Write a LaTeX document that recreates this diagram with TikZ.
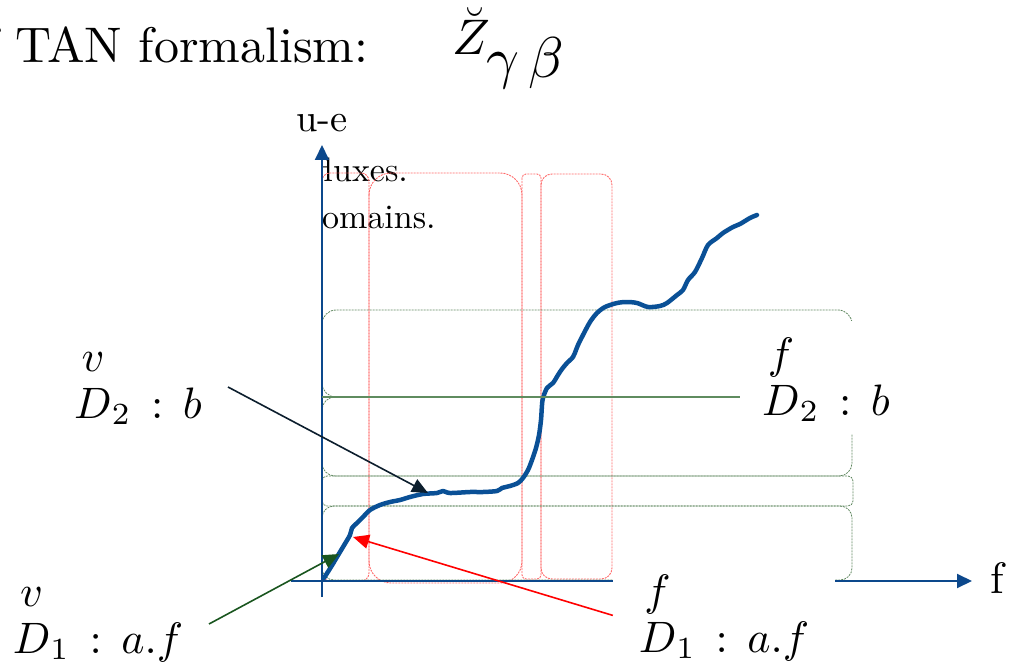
\documentclass[tikz,border=0pt]{standalone}
\usepackage{amsmath}
\usepackage{graphicx}
\usetikzlibrary{arrows.meta}
\definecolor{axisblue}{RGB}{12,72,140}
\definecolor{curveblue}{RGB}{10,80,150}
\definecolor{boxred}{RGB}{255,105,105}
\definecolor{boxgreen}{RGB}{95,135,95}
\definecolor{arrnavy}{RGB}{12,30,45}
\definecolor{arrgreen}{RGB}{25,85,30}
\definecolor{linegreen}{RGB}{95,140,95}
\newcommand\mystk[2]{{\overset{\raisebox{0.18em}{$#1$}}{#2}}}
\newcommand\bigmath[2]{\scalebox{#1}{\fontsize{10}{12}\selectfont$#2$}}
\newcommand\bigtext[2]{\scalebox{#1}{\fontsize{10}{12}\selectfont #2}}
\tikzset{
  rbox/.style={draw=boxred, line width=0.9pt, dash pattern=on 2pt off 1pt},
  gbox/.style={draw=boxgreen, line width=0.8pt, dash pattern=on 2pt off 1pt},
  axisline/.style={draw=axisblue, line width=2pt, -{Triangle[length=15pt,width=14pt]}},
  lab/.style={fill=white, inner xsep=2pt, inner ysep=8pt, anchor=base},
  txt/.style={inner sep=0pt},
  arr/.style={line width=1.6pt, -{Triangle[length=16pt,width=14pt]}},
}
\begin{document}
\begin{tikzpicture}[x=1pt,y=-1pt]
\useasboundingbox (0,0) rectangle (1023,663);
% slide text
\node[txt, anchor=base west] (title) at (15,63) {\bigtext{5}{\llap{of }TAN formalism:}};
\node[txt, anchor=base west] (zg) at (452,55) {\bigmath{5}{\breve{Z}_{\mbox{\scalebox{1.15}{$\gamma\,\beta$}}}}};
\begin{scope}
\clip (321,130) rectangle (700,250);
\node[txt, anchor=base west] (t1) at (314,182) {\bigtext{3.4}{fluxes.}};
\node[txt, anchor=base west] (t2) at (303,229) {\bigtext{3.4}{domains.}};
\end{scope}
% red domains
\draw[rbox, rounded corners=8pt] (322,173) rectangle (369,581);
\draw[rbox, rounded corners=22pt] (369,173) rectangle (522,583);
\draw[rbox, rounded corners=4pt] (522,174) rectangle (541,579);
\draw[rbox, rounded corners=11pt] (541,174) rectangle (612,579);
% green domains
\draw[gbox, rounded corners=14pt] (322,310) rectangle (852,397);
\draw[gbox, rounded corners=13pt] (322,397) rectangle (852,476);
\draw[gbox, rounded corners=5pt] (322,476) rectangle (853,506);
\draw[gbox, rounded corners=12pt] (322,506) rectangle (852,580);
% axes
\coordinate (yo) at (322,597);
\coordinate (yt) at (322,145);
\coordinate (xo) at (291,581);
\coordinate (xt) at (972,581);
\draw[axisline] (yo) -- (yt);
\draw[axisline] (xo) -- (xt);
\node[txt, anchor=base] (ylab) at (322,132) {\bigtext{3.85}{u-e}};
\node[txt, anchor=base west] (xlab) at (990,593) {\bigtext{4.4}{f}};
% curve
\draw[curveblue, line width=4.5pt, line cap=round, line join=round] plot[smooth, tension=0.5] coordinates {
(324,578) (331,567) (337,557) (343,547) (350,535) (352,528) (357,523) (363,517) (370,510) (380,505) (390,502) (400,500) (410,497) (423,494) (437,493) (443,491) (450,493) (470,492) (483,492) (497,491) (502,488) (510,486) (518,483) (523,478) (528,470) (532,460) (536,448) (539,435) (541,420) (542,405) (543,398) (547,388) (553,383) (558,375) (562,369) (567,363) (573,357) (576,350) (578,345) (583,335) (590,322) (597,313) (605,307) (617,303) (627,302) (637,303) (648,307) (660,306) (667,303) (677,295) (683,290) (688,280) (695,272) (702,258) (708,245) (717,238) (723,233) (733,227) (740,224) (750,218) (757,215)};
% labels
\node[lab] (lv2) at (138,418) {\bigmath{4.4}{\mystk{v}{D}_{2}\mathrel{\,:\,}b}};
\node[lab, minimum width=172pt, inner ysep=12pt] (lf2) at (826,415) {\bigmath{4.4}{\mystk{f}{D}_{2}\mathrel{\,:\,}b}};
\node[lab] (lv1) at (98,653) {\bigmath{4.4}{\mystk{v}{D}_{1}\mathrel{\,:\,}a.f}};
\node[lab, minimum width=222pt] (lf1) at (724,652) {\bigmath{4.4}{\mystk{f}{D}_{1}\mathrel{\,:\,}a.f}};
% connectors
\coordinate (ya) at (322,397);
\draw[linegreen, line width=1.2pt] (ya) -- (ya -| lf2.west);
\coordinate (bs) at (228,387);
\coordinate (bt) at (428,493);
\draw[arr, arrnavy] (bs) -- (bt);
\coordinate (gs) at (209,624);
\coordinate (gt) at (339,554);
\draw[arr, arrgreen] (gs) -- (gt);
\coordinate (rt) at (353,537);
\draw[arr, red] (lf1.west) -- (rt);
\end{tikzpicture}
\end{document}
